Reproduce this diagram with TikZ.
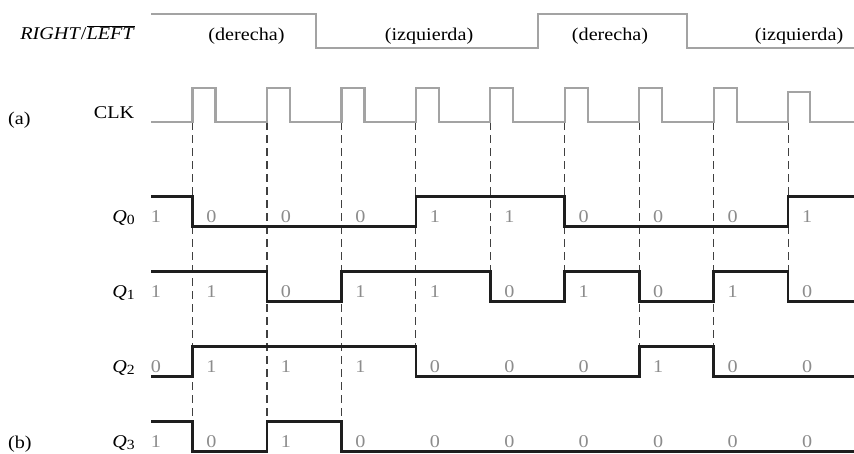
\documentclass[tikz,border=0pt]{standalone}
\usepackage{fontspec}
\setmainfont{Liberation Serif}[FakeStretch=1.12]
\usetikzlibrary{positioning}
\definecolor{wavegray}{HTML}{A3A3A3}
\definecolor{bitgray}{HTML}{8C8C8C}
\definecolor{qblack}{HTML}{1E1E1E}
% row top, row name, first bit, remaining bits
\newcommand{\qwave}[4]{%
\draw[qline] (151,{#1+30*(1-#3)}) foreach \b [count=\k, remember=\b as \p (initially #3)] in {#4}
  { -- ({192.5+74.45*(\k-1)},{#1+30*(1-\p)}) -- ({192.5+74.45*(\k-1)},{#1+30*(1-\b)}) } -- ++(65.9,0);
\node[bit] (#2b0) at (156,#1+25.3) {#3};
\foreach \b [count=\k] in {#4}{\node[bit] (#2b\k) at ({211.5+74.45*(\k-1)},#1+25.3) {\b};}
}
\newcommand{\qname}[1]{\textit{Q}\raisebox{-0.3ex}{\fontsize{14}{14}\selectfont #1}}

\begin{document}
\begin{tikzpicture}[x=1pt,y=-1pt,font=\fontsize{18}{21}\selectfont,
  ctrl/.style={draw=wavegray,line width=2.3pt},
  qline/.style={draw=qblack,line width=2.7pt},
  guide/.style={draw=black!75,line width=1.2pt,dash pattern=on 8pt off 5pt},
  bit/.style={text=bitgray,anchor=base,inner sep=0pt},
  lbl/.style={anchor=base east,inner sep=0pt}]
\useasboundingbox (0,0) rectangle (854,453);
% direction control
\draw[ctrl] (151,14) -- (315.7,14) -- (315.7,48) -- (538.3,48) -- (538.3,14) -- (686.7,14) -- (686.7,48) -- (854,48);
\node[lbl] (rl) at (135,39.5) {\textit{RIGHT}/$\overline{\mbox{\textit{LEFT}}}$};
\foreach \x/\t [count=\k] in {246.5/derecha,429/izquierda,610/derecha,799/izquierda}
  \node[anchor=base,inner sep=0pt] (dir\k) at (\x,40) {(\t)};
% clock edges and guides
\foreach \y [count=\k] in {421.7,421.7,421.7,346.7,271.7,271.7,346.7,346.7,271.7}{
  \coordinate (e\k) at ({192.5+74.45*(\k-1)},122);
  \coordinate (g\k) at ({192.5+74.45*(\k-1)},\y);
  \draw[guide] (e\k) -- (g\k);
}
\draw[ctrl] (151,122) foreach \k in {1,...,8}{ -- (e\k) -- ++(0,-34) -- ++(23,0) -- ++(0,34) }
  -- (e9) -- ++(0,-30) -- ++(22,0) -- ++(0,30) -- (854,122);
\node[anchor=base west,inner sep=0pt] (a) at (8,124) {(a)};
\node[lbl] (clk) at (134.5,118.5) {CLK};
% register outputs
\qwave{196.7}{q0}{1}{0,0,0,1,1,0,0,0,1}
\qwave{271.7}{q1}{1}{1,0,1,1,0,1,0,1,0}
\qwave{346.7}{q2}{0}{1,1,1,0,0,0,1,0,0}
\qwave{421.7}{q3}{1}{0,1,0,0,0,0,0,0,0}
\foreach \r/\y in {0/222,1/297,2/372,3/447}
  \node[lbl] (name\r) at (135,\y) {\qname{\r}};
\node[anchor=base west,inner sep=0pt] (b) at (8,448.5) {(b)};
\end{tikzpicture}
\end{document}
